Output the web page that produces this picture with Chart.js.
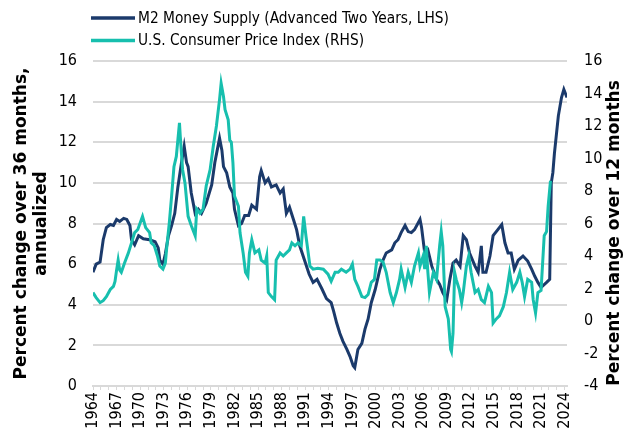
<!DOCTYPE html>
<html>
<head>
<meta charset="utf-8">
<script src="https://cdn.jsdelivr.net/npm/chart.js@4.4.1/dist/chart.umd.min.js"></script>
<style>
  body { margin: 0; background: #fff; }
  #wrap { width: 628px; height: 441px; position: relative; }
</style>
</head>
<body>
<div id="wrap"><canvas id="myChart"></canvas></div>
<script>
/*------------------------------------------------------------------------------------------------*/
//datos M2 (adelantado dos años, eje izquierdo)
const m2Years = [
  1964.0, 1964.4, 1964.9, 1965.3, 1965.7, 1966.2, 1966.6, 1967.0, 1967.4, 1967.9,
  1968.3, 1968.7, 1968.9, 1969.3, 1969.8, 1970.4, 1971.2, 1971.9, 1972.3, 1972.5,
  1972.9, 1973.2, 1973.6, 1974.0, 1974.4, 1974.8, 1975.3, 1975.6, 1975.9, 1976.1,
  1976.5, 1977.0, 1977.4, 1977.8, 1978.4, 1979.1, 1979.5, 1980.1, 1980.4, 1980.6,
  1981.0, 1981.4, 1981.8, 1982.0, 1982.5, 1982.9, 1983.3, 1983.8, 1984.2, 1984.8,
  1985.2, 1985.4, 1985.9, 1986.3, 1986.7, 1987.3, 1987.8, 1988.2, 1988.6, 1989.0,
  1989.5, 1989.9, 1990.3, 1990.9, 1991.5, 1992.0, 1992.5, 1993.1, 1993.7, 1994.3,
  1994.6, 1995.0, 1995.4, 1995.8, 1996.3, 1996.7, 1997.1, 1997.3, 1997.7, 1998.2,
  1998.6, 1999.0, 1999.4, 1999.9, 2000.5, 2000.9, 2001.3, 2002.0, 2002.4, 2002.8,
  2003.2, 2003.7, 2004.1, 2004.5, 2004.9, 2005.6, 2005.8, 2006.2, 2006.6, 2007.1,
  2007.7, 2008.1, 2008.5, 2009.0, 2009.4, 2009.8, 2010.2, 2010.7, 2011.1, 2011.5,
  2011.9, 2012.6, 2013.0, 2013.4, 2013.6, 2014.0, 2014.5, 2014.9, 2015.5, 2016.0,
  2016.4, 2016.8, 2017.2, 2017.6, 2018.1, 2018.7, 2019.3, 2019.8, 2020.2, 2020.6,
  2021.0, 2021.7, 2022.1, 2022.3, 2022.5, 2022.7, 2023.2, 2023.6, 2023.9, 2024.2,
  2024.3
];
const m2Values = [
  5.6, 6.0, 6.1, 7.2, 7.8, 7.95, 7.9, 8.2, 8.1, 8.25,
  8.2, 7.9, 7.2, 6.95, 7.4, 7.25, 7.2, 7.1, 6.8, 6.2,
  6.0, 6.5, 7.4, 7.9, 8.5, 9.8, 11.1, 11.8, 11.0, 10.8,
  9.5, 8.5, 8.7, 8.5, 9.0, 9.9, 11.0, 12.2, 11.6, 10.8,
  10.5, 9.8, 9.5, 8.7, 7.9, 8.0, 8.4, 8.4, 8.9, 8.7,
  10.3, 10.6, 10.0, 10.2, 9.8, 9.9, 9.5, 9.7, 8.5, 8.8,
  8.2, 7.7, 6.9, 6.2, 5.5, 5.1, 5.25, 4.8, 4.3, 4.1,
  3.7, 3.1, 2.6, 2.2, 1.8, 1.45, 1.0, 0.9, 1.8, 2.1,
  2.8, 3.3, 4.1, 4.75, 5.75, 6.2, 6.55, 6.7, 7.05, 7.2,
  7.55, 7.9, 7.6, 7.55, 7.7, 8.2, 7.8, 6.55, 6.7, 5.9,
  5.25, 5.0, 4.6, 4.25, 5.25, 6.05, 6.2, 5.9, 7.4, 7.2,
  6.55, 5.9, 5.6, 6.9, 5.6, 5.6, 6.4, 7.4, 7.7, 7.95,
  7.05, 6.55, 6.55, 5.75, 6.2, 6.4, 6.15, 5.75, 5.4, 5.1,
  4.85, 5.1, 5.25, 10.0, 10.5, 11.45, 13.3, 14.2, 14.6, 14.3,
  14.2
];

/*------------------------------------------------------------------------------------------------*/
//datos IPC (eje derecho)
const cpiYears = [
  1964.0, 1964.4, 1964.9, 1965.3, 1965.7, 1966.2, 1966.6, 1966.8, 1967.0, 1967.2,
  1967.4, 1967.6, 1968.0, 1968.5, 1968.9, 1969.3, 1969.7, 1970.3, 1970.7, 1971.2,
  1971.4, 1971.8, 1972.2, 1972.5, 1972.9, 1973.2, 1973.4, 1973.7, 1974.0, 1974.3,
  1974.6, 1975.0, 1975.1, 1975.4, 1975.7, 1976.1, 1976.5, 1977.0, 1977.2, 1977.6,
  1978.0, 1978.4, 1978.9, 1979.3, 1979.7, 1980.1, 1980.3, 1980.6, 1980.8, 1981.2,
  1981.4, 1981.6, 1981.8, 1982.0, 1982.5, 1982.7, 1983.1, 1983.4, 1983.7, 1983.9,
  1984.2, 1984.6, 1985.1, 1985.4, 1985.9, 1986.1, 1986.3, 1986.7, 1987.1, 1987.3,
  1987.8, 1988.2, 1988.6, 1989.0, 1989.3, 1989.7, 1990.1, 1990.5, 1990.8, 1991.1,
  1991.6, 1992.0, 1992.6, 1993.3, 1993.9, 1994.3, 1994.8, 1995.2, 1995.6, 1996.2,
  1996.7, 1997.0, 1997.3, 1997.7, 1998.2, 1998.6, 1999.0, 1999.4, 1999.8, 2000.1,
  2000.5, 2000.9, 2001.3, 2001.8, 2002.2, 2002.6, 2003.0, 2003.2, 2003.7, 2004.1,
  2004.5, 2004.9, 2005.4, 2005.6, 2006.0, 2006.2, 2006.4, 2006.6, 2006.8, 2007.3,
  2007.7, 2008.1, 2008.3, 2008.5, 2008.8, 2009.2, 2009.5, 2009.6, 2009.8, 2010.0,
  2010.2, 2010.6, 2010.9, 2011.1, 2011.5, 2011.8, 2012.1, 2012.6, 2013.0, 2013.4,
  2013.8, 2014.3, 2014.7, 2014.9, 2015.3, 2015.7, 2016.2, 2016.6, 2017.0, 2017.4,
  2017.9, 2018.3, 2018.6, 2018.9, 2019.3, 2019.8, 2020.0, 2020.3, 2020.6, 2021.0,
  2021.4, 2021.7, 2021.9, 2022.2
];
const cpiValues = [
  1.75, 1.44, 1.13, 1.25, 1.5, 1.94, 2.13, 2.44, 3.13, 3.75,
  3.13, 3.0, 3.56, 4.19, 4.81, 5.44, 5.63, 6.44, 5.75, 5.44,
  4.81, 4.63, 4.0, 3.38, 3.19, 3.56, 4.63, 6.0, 7.69, 9.5,
  10.13, 12.19, 11.38, 9.31, 8.5, 6.44, 5.88, 5.25, 6.88, 6.63,
  6.88, 8.31, 9.31, 10.75, 12.0, 13.63, 14.63, 13.81, 13.0, 12.38,
  11.13, 11.0, 9.75, 7.69, 7.06, 5.44, 4.19, 3.0, 2.75, 4.19,
  5.0, 4.19, 4.38, 3.75, 3.56, 4.0, 1.75, 1.5, 1.31, 3.75,
  4.19, 4.0, 4.19, 4.38, 4.81, 4.63, 4.81, 4.63, 6.44, 5.2,
  3.38, 3.19, 3.25, 3.19, 2.88, 2.44, 3.0, 3.0, 3.19, 3.0,
  3.19, 3.5, 2.56, 2.13, 1.5, 1.44, 1.63, 2.38, 2.56, 3.75,
  3.75, 3.63, 3.0, 1.75, 1.13, 1.75, 2.56, 3.19, 2.06, 3.0,
  2.38, 3.38, 4.19, 3.38, 4.0, 3.19, 4.63, 3.0, 1.75, 3.0,
  2.56, 4.63, 5.5, 4.63, 0.88, 0.13, -1.75, -1.88, -0.75, 3.0,
  2.56, 1.94, 1.13, 1.75, 3.38, 4.0, 3.0, 1.75, 1.94, 1.31,
  1.13, 2.13, 1.75, -0.13, 0.13, 0.31, 0.88, 1.75, 3.0, 1.94,
  2.38, 3.0, 2.38, 1.5, 2.56, 2.38, 1.31, 0.5, 1.75, 1.88,
  5.25, 5.5, 7.06, 8.63
];

/*------------------------------------------------------------------------------------------------*/
//etiquetas y ejes
const seriesLabels = ['M2 Money Supply (Advanced Two Years, LHS)', 'U.S. Consumer Price Index (RHS)'];
const leftTitle = ['Percent change over 36 months,', 'annualized'];
const rightTitle = 'Percent change over 12 months';
const xFirst = 1964, xLast = 2024.3, xLabelStep = 3;
const leftTicks = { min: 0, max: 16, step: 2 };
const rightTicks = { min: -4, max: 16, step: 2 };

const navy = '#1b3a6b';
const teal = '#17bfae';
const fontFam = '"DejaVu Sans Condensed", "DejaVu Sans", sans-serif';
const titleFam = '"DejaVu Sans", sans-serif';

const toPoints = (xs, ys) => xs.map((x, i) => ({ x: x, y: ys[i] }));

/*------------------------------------------------------------------------------------------------*/
//leyenda (dos filas alineadas a la izquierda) y titulo derecho (de abajo a arriba)
const extras = {
  id: 'extras',
  afterDraw(chart) {
    const ctx = chart.ctx;
    ctx.save();
    chart.data.datasets.forEach((ds, i) => {
      const y = 18 + i * 22.5;
      ctx.strokeStyle = ds.borderColor;
      ctx.lineWidth = 3.5;
      ctx.beginPath();
      ctx.moveTo(91, y);
      ctx.lineTo(135, y);
      ctx.stroke();
      ctx.fillStyle = '#000';
      ctx.font = '15.3px ' + fontFam;
      ctx.textBaseline = 'middle';
      ctx.textAlign = 'left';
      ctx.fillText(ds.label, 138, y + 1);
    });
    ctx.translate(615, 233);
    ctx.rotate(-Math.PI / 2);
    ctx.textAlign = 'center';
    ctx.textBaseline = 'middle';
    ctx.font = 'bold 17px ' + titleFam;
    ctx.fillText(rightTitle, 0, 0);
    ctx.restore();
  }
};

/*------------------------------------------------------------------------------------------------*/
//grafico
var ctx = document.getElementById('myChart');
var myChart = new Chart(ctx, {
  type: 'line',
  data: {
    datasets: [{
      label: seriesLabels[0],
      data: toPoints(m2Years, m2Values),
      borderColor: navy,
      borderWidth: 3,
      pointRadius: 0,
      yAxisID: 'y',
      order: 1
    }, {
      label: seriesLabels[1],
      data: toPoints(cpiYears, cpiValues),
      borderColor: teal,
      borderWidth: 3,
      pointRadius: 0,
      yAxisID: 'y1',
      order: 0
    }]
  },
  options: {
    responsive: true,
    maintainAspectRatio: false,
    animation: false,
    layout: { padding: { top: 61, left: 0, right: 0, bottom: 0 } },
    plugins: {
      legend: { display: false },
      tooltip: { enabled: false }
    },
    scales: {
      x: {
        type: 'linear',
        min: xFirst,
        max: xLast,
        afterFit: (s) => { s.height = 55; },
        grid: { drawOnChartArea: false, drawTicks: true, tickLength: 4, color: '#d9d9d9', lineWidth: 1 },
        border: { color: '#d9d9d9', width: 2 },
        ticks: {
          stepSize: 1,
          autoSkip: false,
          includeBounds: false,
          minRotation: 90,
          maxRotation: 90,
          padding: 2,
          color: '#000',
          font: { family: fontFam, size: 16 },
          callback: (v) => ((v - xFirst) % xLabelStep === 0 ? String(v) : '')
        }
      },
      y: {
        position: 'left',
        min: leftTicks.min,
        max: leftTicks.max,
        afterFit: (s) => { s.width = 93; },
        grid: { color: '#d9d9d9', lineWidth: 2, drawTicks: false },
        border: { display: false },
        ticks: {
          stepSize: leftTicks.step,
          padding: 16,
          color: '#000',
          font: { family: fontFam, size: 16 }
        },
        title: {
          display: true,
          text: leftTitle,
          color: '#000',
          padding: { top: 12, bottom: 0 },
          font: { family: titleFam, size: 17, weight: 'bold', lineHeight: 1.15 }
        }
      },
      y1: {
        position: 'right',
        min: rightTicks.min,
        max: rightTicks.max,
        afterFit: (s) => { s.width = 61; },
        grid: { drawOnChartArea: false, drawTicks: false },
        border: { display: false },
        ticks: {
          stepSize: rightTicks.step,
          padding: 17,
          color: '#000',
          font: { family: fontFam, size: 16 }
        }
      }
    }
  },
  plugins: [extras]
});
</script>
</body>
</html>
